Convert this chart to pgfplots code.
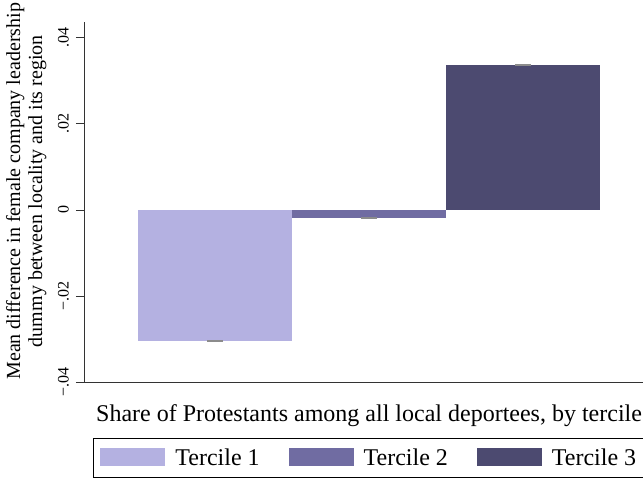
\documentclass[border=0pt]{standalone}
\usepackage{fontspec}
\setmainfont{Liberation Serif}
\usepackage{pgfplots}
\pgfplotsset{compat=1.18}
\definecolor{tone}{RGB}{180,177,225}
\definecolor{ttwo}{RGB}{112,108,162}
\definecolor{tthree}{RGB}{76,74,112}
\definecolor{capgray}{RGB}{140,140,140}
\begin{document}
\begin{tikzpicture}
\begin{axis}[
  at={(84pt,95pt)}, anchor=south west,
  scale only axis, width=559pt, height=360pt,
  xmin=0.1494, xmax=3.779, ymin=-0.04, ymax=0.0437,
  axis lines*=left,
  axis line style={black!80, line width=0.9pt},
  xtick=\empty,
  scaled y ticks=false,
  ytick={-0.04,-0.02,0,0.02,0.04},
  yticklabels={−.04,−.02,0,.02,.04},
  tick align=outside, major tick length=8pt,
  tick style={black!80, line width=0.9pt},
  yticklabel style={rotate=90, anchor=south, inner xsep=0pt, inner ysep=7pt, font=\fontsize{16}{19}\selectfont},
  clip=false,
  ylabel={Mean difference in female company leadership\\dummy between locality and its region},
  ylabel style={at={(axis description cs:-0.1035,0.53)}, anchor=center, rotate=0, align=center, font=\fontsize{20}{22}\selectfont},
  xlabel={Share of Protestants among all local deportees, by tercile},
  xlabel style={at={(axis description cs:0.51,-0.111)}, anchor=base, font=\fontsize{24}{28}\selectfont},
  legend style={at={(axis description cs:0.0161,-0.1556)}, anchor=north west, draw=black, line width=0.8pt,
    legend columns=3, inner xsep=7pt, inner ysep=10pt,
    font=\fontsize{24}{28}\selectfont,
    /tikz/every odd column/.append style={column sep=10pt},
    /tikz/every even column/.append style={column sep=29pt},
    nodes={inner sep=0pt, anchor=base west}},
  legend image code/.code={\fill[#1] (0pt,-1pt) rectangle (65pt,17pt);},
]
\addplot[ybar, bar width=1, bar shift=0pt, fill=tone, draw=none] coordinates {(1,-0.0305)};
\addlegendentry{Tercile 1}
\addplot[ybar, bar width=1, bar shift=0pt, fill=ttwo, draw=none] coordinates {(2,-0.0019)};
\addlegendentry{Tercile 2}
\addplot[ybar, bar width=1, bar shift=0pt, fill=tthree, draw=none] coordinates {(3,0.0337)};
\addlegendentry{Tercile 3\hspace*{15pt}}
\addplot[only marks, mark=-, mark size=8pt, mark options={line width=2pt, draw=capgray}, forget plot] coordinates {(1,-0.0305) (2,-0.0019) (3,0.0337)};
\end{axis}
\pgfresetboundingbox
\path[use as bounding box] (0,0) rectangle (643pt,477pt);
\end{tikzpicture}
\end{document}
